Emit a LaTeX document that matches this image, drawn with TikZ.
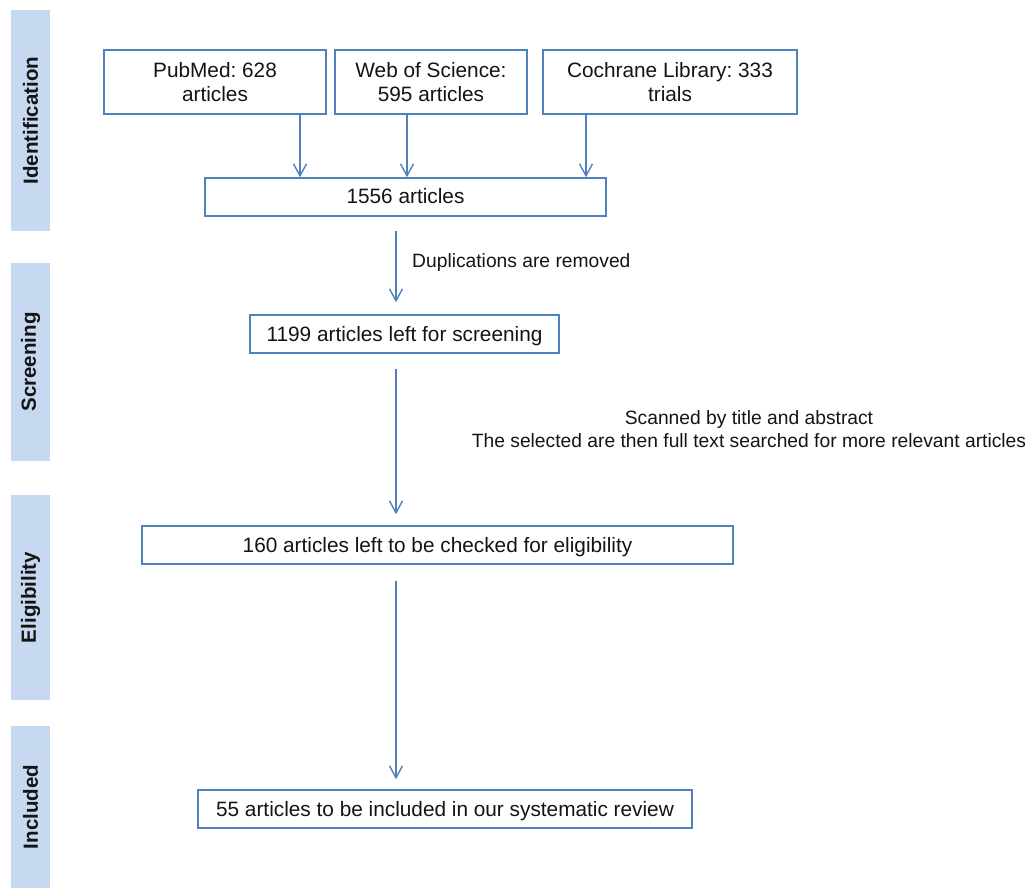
\documentclass[tikz,border=0pt]{standalone}
\usepackage{fontspec}
\setmainfont{Liberation Sans}
\usetikzlibrary{arrows.meta}
\definecolor{barblue}{RGB}{198,217,241}
\definecolor{lineblue}{RGB}{79,129,189}
\definecolor{txt}{RGB}{20,20,20}
\frenchspacing
\tikzset{
  stagebar/.style={fill=barblue,draw=none},
  stagelabel/.style={rotate=90,font=\fontsize{20.5}{24}\selectfont\bfseries,text=txt,inner sep=0pt},
  basebox/.style={draw=lineblue,line width=1.4pt,fill=white,inner sep=0pt,align=center,font=\fontsize{20.8}{24}\selectfont,text=txt},
  flowbox/.style={basebox,minimum height=38pt,text height=15pt,text depth=1pt},
  srcbox/.style={basebox,minimum height=64pt},
  flowarrow/.style={draw=lineblue,line width=1.4pt,-{Straight Barb[length=12pt,width=13pt,line width=1.4pt]}},
  note/.style={font=\fontsize{19.25}{23}\selectfont,text=txt,inner sep=0pt,align=center}
}
\begin{document}
\begin{tikzpicture}[x=1pt,y=-1pt]
\useasboundingbox (0,0) rectangle (1031,888);
% stage bars
\fill[stagebar] (11,10) rectangle (50,231);
\fill[stagebar] (11,263) rectangle (50,461);
\fill[stagebar] (11,495) rectangle (50,700);
\fill[stagebar] (11,726) rectangle (50,888);
\node[stagelabel] (lid) at (30.5,120.5) {Identification};
\node[stagelabel] (lsc) at (30.5,362) {Screening};
\node[stagelabel] (lel) at (30.5,597.5) {Eligibility};
\node[stagelabel] (lin) at (30.5,807) {Included};
% boxes
\node[srcbox,minimum width=222pt] (pub) at (215,82) {PubMed: 628\\articles};
\node[srcbox,minimum width=192pt] (wos) at (431,82) {Web of Science:\\595 articles};
\node[srcbox,minimum width=254pt] (coch) at (670,82) {Cochrane Library: 333\\trials};
\node[flowbox,minimum width=401pt] (all) at (405.5,197) {1556 articles};
\node[flowbox,minimum width=309pt] (scr) at (404.5,334) {1199 articles left for screening};
\node[flowbox,minimum width=591pt] (elig) at (437.5,545) {160 articles left to be checked for eligibility};
\node[flowbox,minimum width=494pt] (inc) at (445,809) {55 articles to be included in our systematic review};
% arrows
\draw[flowarrow] (pub.south -| 300,0) -- (all.north -| 300,0);
\draw[flowarrow] (wos.south -| 407,0) -- (all.north -| 407,0);
\draw[flowarrow] (coch.south -| 586,0) -- (all.north -| 586,0);
\draw[flowarrow,shorten <=14pt,shorten >=12pt] (all.south -| 396,0) -- (scr.north -| 396,0);
\draw[flowarrow,shorten <=15pt,shorten >=11pt] (scr.south -| 396,0) -- (elig.north -| 396,0);
\draw[flowarrow,shorten <=16pt,shorten >=10pt] (elig.south -| 396,0) -- (inc.north -| 396,0);
% notes
\node[note,anchor=west] (dup) at (412,263) {Duplications are removed};
\node[note] (scan) at (749,429) {Scanned by title and abstract\\The selected are then full text searched for more relevant articles};
\end{tikzpicture}
\end{document}
